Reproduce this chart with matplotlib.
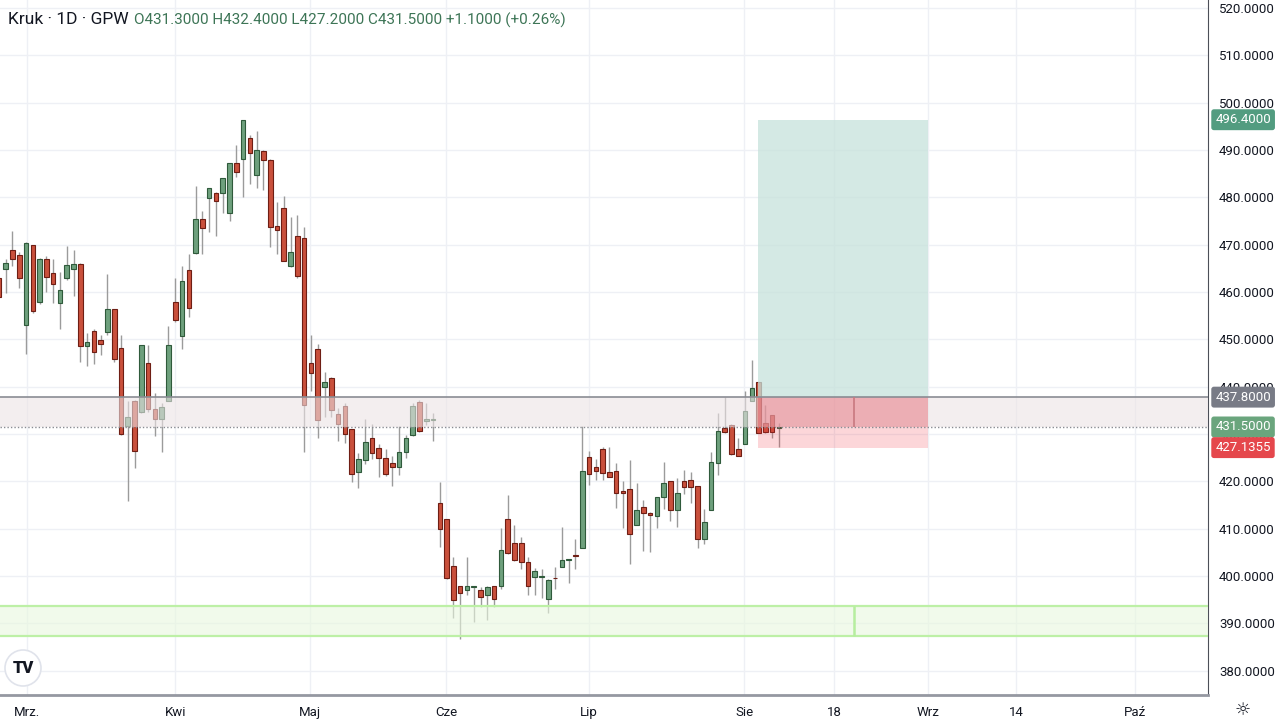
import numpy as np
import matplotlib.pyplot as plt
from matplotlib.patches import Rectangle, Circle

plt.rcParams['font.family'] = ['Roboto', 'DejaVu Sans']

# Daily OHLC for Kruk (GPW), oldest first
opens = [463.0, 464.9, 468.9, 467.9, 453.0, 469.9, 457.9, 466.9, 464.1, 457.6,
         462.9, 464.8, 466.0, 448.6, 451.8, 449.9, 451.6, 456.4, 448.1, 431.6,
         437.0, 434.7, 445.1, 435.3, 433.2, 437.0, 457.9, 450.8, 464.6, 468.2,
         475.4, 479.9, 481.0, 481.0, 476.8, 487.2, 488.0, 492.5, 484.7, 489.7,
         487.9, 474.0, 477.8, 465.5, 471.9, 471.5, 445.0, 447.9, 439.9, 441.9,
         434.2, 436.0, 431.0, 421.9, 424.5, 429.1, 427.1, 424.9, 423.8, 423.0,
         426.3, 429.9, 436.8, 432.8, 432.9, 415.4, 412.0, 402.1, 397.9, 397.1,
         397.6, 397.1, 395.9, 397.9, 397.8, 412.0, 406.9, 406.9, 403.0, 399.9,
         399.9, 395.1, 399.7, 402.0, 403.4, 404.5, 406.0, 425.1, 423.0, 426.8,
         421.9, 422.2, 418.0, 418.3, 410.8, 414.5, 413.4, 412.6, 416.6, 420.0,
         414.0, 420.0, 420.3, 419.0, 407.8, 414.0, 423.8, 431.2, 431.9, 426.8,
         428.0, 437.0, 440.9, 432.3, 434.0, 431.3]
highs = [464.0, 466.9, 472.9, 468.4, 470.5, 470.0, 467.1, 467.6, 466.9, 464.3,
         469.7, 468.9, 466.2, 451.3, 452.1, 450.9, 463.8, 456.5, 451.0, 437.0,
         437.2, 448.9, 448.8, 438.6, 436.6, 452.8, 463.0, 465.6, 468.0, 482.4,
         477.1, 482.0, 481.2, 484.1, 487.3, 491.1, 496.4, 493.2, 494.1, 490.0,
         488.0, 479.1, 480.3, 475.9, 476.3, 473.7, 451.0, 449.0, 443.1, 442.0,
         435.4, 436.6, 431.1, 425.9, 433.2, 432.1, 428.0, 426.8, 425.4, 431.6,
         429.7, 436.5, 437.2, 436.6, 434.4, 419.9, 412.1, 404.1, 398.0, 404.1,
         398.0, 397.6, 397.9, 398.0, 410.1, 417.1, 410.8, 408.3, 404.0, 401.8,
         401.6, 399.3, 402.0, 410.4, 403.6, 407.8, 431.6, 426.5, 424.7, 427.3,
         427.3, 423.8, 420.0, 424.5, 419.7, 416.1, 413.5, 416.7, 424.0, 420.1,
         420.7, 422.4, 421.9, 419.1, 414.2, 426.3, 434.4, 437.8, 432.1, 429.2,
         439.1, 445.6, 441.0, 436.1, 434.1, 432.4]
lows = [458.5, 459.9, 465.5, 460.8, 447.0, 455.5, 457.5, 460.1, 457.6, 452.2,
        462.6, 459.1, 445.3, 444.4, 444.7, 446.7, 450.9, 445.3, 429.9, 415.9,
        422.8, 434.5, 434.7, 429.6, 426.3, 436.9, 453.7, 447.9, 454.8, 468.0,
        468.0, 472.6, 471.8, 476.6, 475.0, 484.4, 480.1, 482.8, 481.9, 481.5,
        469.6, 468.0, 466.5, 465.2, 463.0, 426.3, 439.1, 429.2, 433.5, 433.7,
        428.6, 428.2, 419.8, 418.6, 423.7, 424.7, 421.0, 421.2, 419.0, 421.4,
        424.9, 429.6, 430.5, 431.9, 428.6, 406.2, 399.3, 391.1, 386.8, 396.0,
        390.4, 393.4, 390.7, 393.5, 397.2, 404.7, 403.2, 401.6, 396.0, 396.0,
        395.3, 392.3, 397.2, 401.9, 398.5, 401.4, 406.0, 419.2, 420.3, 420.4,
        420.9, 414.3, 410.1, 402.5, 410.7, 405.2, 405.0, 410.1, 414.1, 411.7,
        410.4, 417.3, 415.4, 405.9, 406.8, 413.9, 421.4, 430.3, 425.6, 425.3,
        427.9, 436.9, 430.2, 430.3, 429.1, 427.2]
closes = [459.0, 466.2, 466.9, 462.9, 470.4, 456.0, 466.9, 463.1, 461.8, 460.4,
          465.7, 466.0, 448.6, 449.4, 447.4, 449.0, 456.4, 445.8, 430.1, 433.7,
          426.4, 448.8, 435.3, 433.2, 435.8, 448.8, 454.1, 462.3, 456.6, 475.4,
          473.6, 481.9, 479.3, 484.0, 487.2, 485.4, 496.3, 489.4, 489.9, 487.9,
          473.8, 473.0, 466.6, 468.4, 463.3, 436.2, 442.8, 433.0, 441.0, 435.0,
          432.1, 430.0, 421.5, 424.7, 428.3, 426.1, 424.9, 421.5, 423.0, 426.2,
          429.2, 435.9, 430.7, 433.1, 433.2, 409.9, 399.7, 394.9, 396.5, 397.8,
          397.9, 395.5, 397.6, 395.1, 405.6, 404.8, 403.3, 403.0, 397.9, 401.1,
          400.0, 399.2, 399.5, 403.4, 403.5, 404.3, 422.1, 421.5, 422.3, 421.7,
          421.0, 417.5, 417.5, 408.9, 414.0, 413.3, 412.9, 416.6, 419.6, 414.0,
          417.6, 418.9, 418.9, 407.8, 411.4, 424.0, 430.7, 430.4, 425.7, 425.4,
          434.9, 439.8, 430.3, 430.5, 430.4, 431.5]

# time axis labels (positions in bar units)
tick_pos = [4.1, 26.0, 45.9, 65.9, 87.0, 109.9, 123.1, 137.0, 150.0, 167.5]
tick_labels = ['Mrz.', 'Kwi', 'Maj', 'Cze', 'Lip', 'Sie', '18', 'Wrz', '14', 'Paź']

# drawings
zone_low, zone_high = 431.5, 437.8
support_low, support_high = 387.4, 393.7
entry, target, stop, last = 437.8, 496.4, 427.1355, 431.5
pos_left, pos_right, pos_mid = 111.9, 137.0, 126.1

o = np.array(opens)
h = np.array(highs)
l = np.array(lows)
c = np.array(closes)
x = np.arange(len(o))
up = c >= o

fig = plt.figure(figsize=(12.8, 7.2), dpi=100)
ax = fig.add_axes([0, 25 / 720, 1208 / 1280, 695 / 720])
ax.set_xlim(0.16, 178.25)
ax.set_ylim(374.88, 521.69)

# candles
ax.vlines(x, l, h, color='#9b9b9b', lw=1, zorder=2)
bottom = np.minimum(o, c)
height = np.maximum(np.abs(c - o), 0.15)
ax.bar(x[up], height[up], bottom=bottom[up], width=0.68,
       color='#6ea07d', edgecolor='#2f5a3b', linewidth=0.8, zorder=3)
ax.bar(x[~up], height[~up], bottom=bottom[~up], width=0.68,
       color='#c9503c', edgecolor='#6e1e14', linewidth=0.8, zorder=3)

# resistance band
ax.axhspan(zone_low, zone_high, color='#ece3e5', alpha=0.6, lw=0, zorder=4)
ax.axhline(zone_high, color='#8a8c93', lw=1.2, zorder=5)
ax.axhline(last, color='#8a8c93', lw=1, ls=(0, (1, 1.5)), zorder=5)

# support band
ax.axhspan(support_low, support_high, color='#e8f8de', alpha=0.6, lw=0, zorder=4)
ax.axhline(support_low, color='#bdf0a6', lw=1.6, zorder=5)
ax.axhline(support_high, color='#bdf0a6', lw=1.6, zorder=5)
ax.vlines(pos_mid, support_low, support_high, color='#b6ee9f', lw=1.8, zorder=5)

# long position tool
w = pos_right - pos_left
ax.add_patch(Rectangle((pos_left, entry), w, target - entry,
                       color='#c6e2db', alpha=0.75, lw=0, zorder=4))
ax.add_patch(Rectangle((pos_left, stop), w, entry - stop,
                       color='#f23645', alpha=0.2, lw=0, zorder=4))
ax.add_patch(Rectangle((pos_left, last), w, entry - last,
                       color='#d8505c', alpha=0.22, lw=0, zorder=4))
ax.vlines(pos_mid, last, entry, color='#c97880', lw=1.2, zorder=5)

# axes styling
ax.set_facecolor('white')
ax.grid(color='#eef0f5', lw=1, zorder=0)
ax.set_axisbelow(True)
for s in ['left', 'top']:
    ax.spines[s].set_visible(False)
ax.spines['right'].set_color('#4c4f58')
ax.spines['bottom'].set_color('#9598a1')
ax.spines['bottom'].set_linewidth(2)

ax.yaxis.tick_right()
yt = np.arange(380, 521, 10)
ax.set_yticks(yt)
ax.set_yticklabels([f'{v:.4f}' for v in yt])
ax.tick_params(axis='y', length=0, pad=8, labelsize=9.5, labelcolor='#131722')
ax.set_xticks(tick_pos)
ax.set_xticklabels(tick_labels)
ax.tick_params(axis='x', length=0, pad=8, labelsize=9.5, labelcolor='#131722')

# price tags on the scale
tags = [(target, '#529c80'), (entry, '#787b86'), (last, '#6aa57d'), (stop, '#e5474c')]
for val, col in tags:
    ax.text(1.006, val, f'{val:.4f}', transform=ax.get_yaxis_transform(),
            ha='left', va='center', fontsize=9.5, color='white', clip_on=False,
            bbox=dict(boxstyle='round,pad=0.3,rounding_size=0.2', fc=col, ec='none'),
            zorder=10)

# header
fig.text(8 / 1280, 1 - 20 / 720, 'Kruk · 1D · GPW', fontsize=12.5,
         color='#131722', va='center')
fig.text(134 / 1280, 1 - 20 / 720,
         'O431.3000 H432.4000 L427.2000 C431.5000 +1.1000 (+0.26%)',
         fontsize=11, color='#3d7556', va='center')

# TradingView badge and settings icon
fig.add_artist(Circle((23, 720 - 668), 18, transform=None,
                      fc='white', ec='#e0e3eb', lw=1.2, zorder=10))
fig.text(23 / 1280, 1 - 668 / 720, 'TV', fontsize=12, fontweight='heavy',
         color='#131722', ha='center', va='center', zorder=11)
fig.text(1243 / 1280, 1 - 710 / 720, '☼', fontsize=13, color='#131722',
         ha='center', va='center', family='DejaVu Sans')

fig.savefig('out.png', dpi=100)
